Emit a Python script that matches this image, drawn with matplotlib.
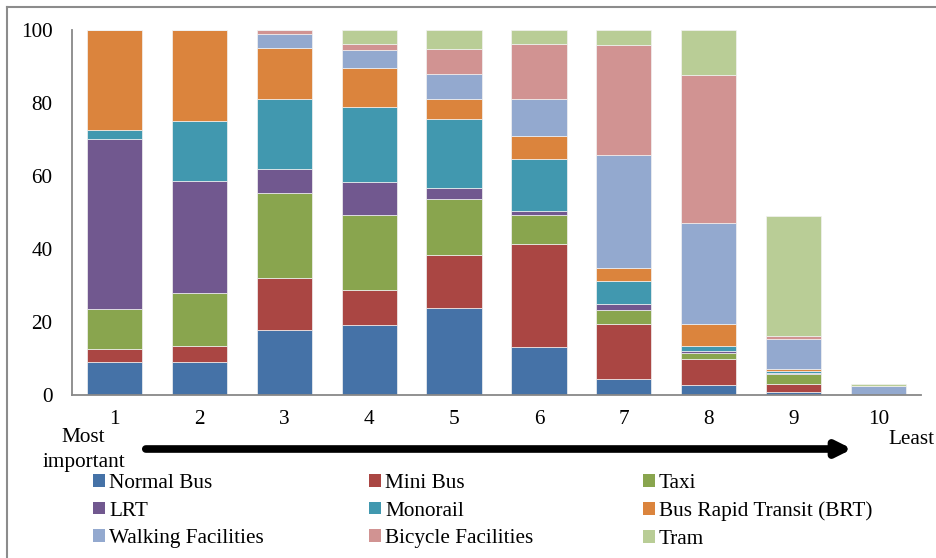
import matplotlib
matplotlib.use("Agg")
import matplotlib.pyplot as plt
from matplotlib.patches import Patch, FancyArrowPatch
from matplotlib.lines import Line2D
import numpy as np

ranks = ["1", "2", "3", "4", "5", "6", "7", "8", "9", "10"]

normal_bus = [9.1, 9.1, 17.7, 19.1, 23.7, 13.1, 4.3, 2.7, 0.7, 0]
mini_bus = [3.6, 4.3, 14.3, 9.8, 14.6, 28.4, 15.2, 7.3, 2.4, 0]
taxi = [10.9, 14.6, 23.3, 20.3, 15.4, 7.7, 3.8, 1.4, 2.7, 0]
lrt = [46.6, 30.6, 6.6, 9.2, 2.9, 1.3, 1.7, 0.7, 0.2, 0]
monorail = [2.5, 16.4, 19.1, 20.6, 19.1, 14.2, 6.1, 1.4, 0.6, 0]
brt = [27.3, 25.0, 14.2, 10.7, 5.3, 6.3, 3.8, 5.9, 0.4, 0]
walking = [0, 0, 3.7, 4.7, 6.9, 10.0, 30.8, 27.8, 8.3, 2.5]
bicycle = [0, 0, 1.1, 1.9, 6.8, 15.3, 30.3, 40.5, 0.9, 0]
tram = [0, 0, 0, 3.7, 5.3, 3.7, 4.0, 12.3, 32.8, 0.4]

series_names = ["Normal Bus", "Mini Bus", "Taxi", "LRT", "Monorail",
                "Bus Rapid Transit (BRT)", "Walking Facilities",
                "Bicycle Facilities", "Tram"]
series_values = [normal_bus, mini_bus, taxi, lrt, monorail, brt,
                 walking, bicycle, tram]
colors = ["#4572A7", "#AA4643", "#89A54E", "#71588F", "#4198AF",
          "#DB843D", "#93A9CF", "#D19392", "#B9CD96"]

plt.rcParams["font.family"] = ["Liberation Serif", "DejaVu Serif"]
FS = 15.3

W, H = 937, 558
fig = plt.figure(figsize=(W / 100, H / 100), dpi=100)
ax = fig.add_axes([72 / W, 1 - 395 / H, (921 - 72) / W, (395 - 30) / H])

x = np.arange(1, len(ranks) + 1)
bottom = np.zeros(len(ranks))
for name, vals, col in zip(series_names, series_values, colors):
    vals = np.array(vals, dtype=float)
    ax.bar(x, vals, width=0.65, bottom=bottom, color=col,
           edgecolor="#f2f2f2", linewidth=0.5, label=name)
    bottom += vals

ax.set_xlim(0.5, 10.5)
ax.set_ylim(0, 100)
ax.set_yticks([0, 20, 40, 60, 80, 100])
ax.set_xticks(x)
ax.set_xticklabels(ranks)
ax.tick_params(axis="both", length=0, labelsize=FS, colors="black")
ax.tick_params(axis="y", pad=14)
ax.tick_params(axis="x", pad=11)
for s in ["top", "right"]:
    ax.spines[s].set_visible(False)
for s in ["left", "bottom"]:
    ax.spines[s].set_color("#888888")
    ax.spines[s].set_linewidth(1.3)

# importance direction arrow
arrow = FancyArrowPatch((143 / W, 1 - 449 / H), (855 / W, 1 - 449 / H),
                        transform=fig.transFigure, arrowstyle="-|>",
                        mutation_scale=22, linewidth=5.5, color="black")
fig.patches.append(arrow)
fig.text(83 / W, 1 - 437 / H, "Most", fontsize=FS, ha="center", va="center")
fig.text(84 / W, 1 - 463 / H, "important", fontsize=FS, ha="center", va="center")
fig.text(911 / W, 1 - 440 / H, "Least", fontsize=FS, ha="center", va="center")

# outer frame lines
fig.add_artist(Line2D([7 / W, 7 / W], [0, 1 - 7 / H], transform=fig.transFigure,
                      color="#8c8c8c", linewidth=1.5))
fig.add_artist(Line2D([7 / W, 1], [1 - 7 / H, 1 - 7 / H], transform=fig.transFigure,
                      color="#8c8c8c", linewidth=1.5))

# three equal-width legend columns, filled row by row
col_x = [93, 369, 643]
for c, xpix in enumerate(col_x):
    idx = [c, c + 3, c + 6]
    handles = [Patch(facecolor=colors[i], edgecolor="none") for i in idx]
    labels = [series_names[i] for i in idx]
    fig.legend(handles, labels, ncol=1, loc="upper left",
               bbox_to_anchor=(xpix / W, 1 - 474 / H), frameon=False,
               fontsize=FS, borderpad=0, borderaxespad=0,
               handlelength=0.55, handleheight=0.55, handletextpad=0.2,
               labelspacing=0.4)

fig.savefig("out.png", dpi=100)
